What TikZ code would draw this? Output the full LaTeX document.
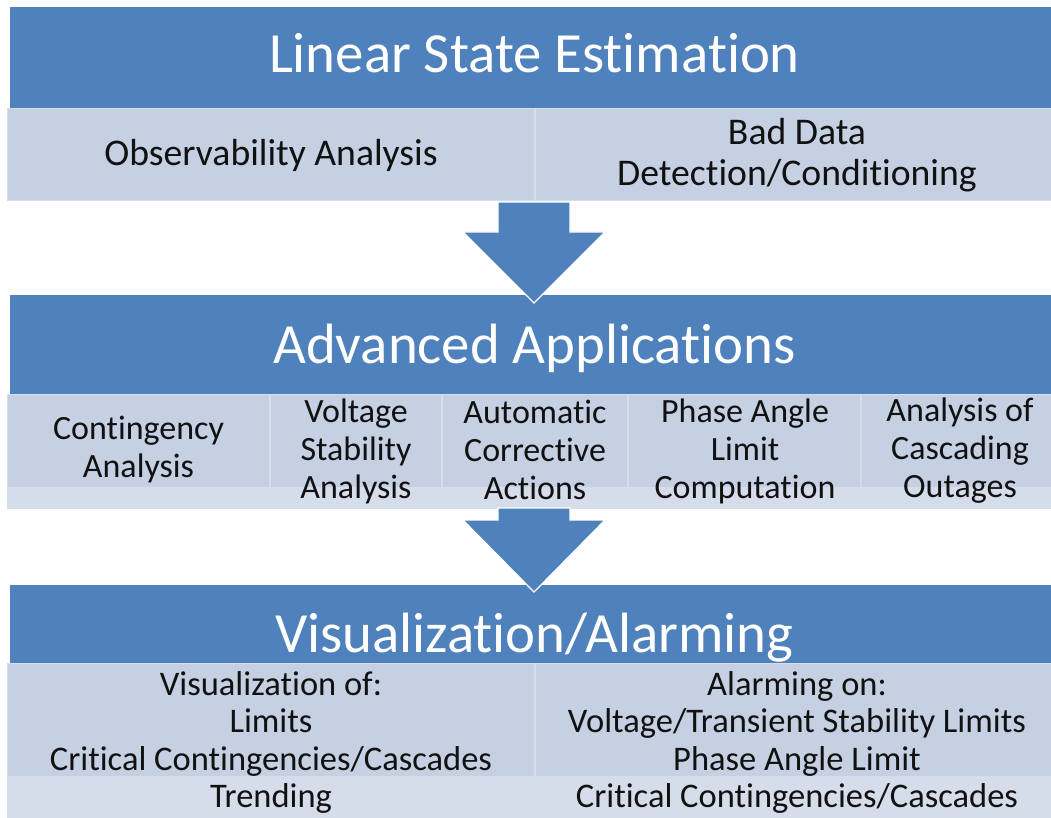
\documentclass[tikz,border=0pt]{standalone}
\usepackage{fontspec}
\setmainfont{Carlito}[Ligatures={NoCommon},Contextuals={NoAlternate}]
\definecolor{hdrblue}{HTML}{4F81BD}
\definecolor{rowblue}{HTML}{C5D0E3}
\definecolor{bandblue}{HTML}{D5DCEA}
\definecolor{divline}{HTML}{D6DEEB}
\definecolor{inktext}{HTML}{111111}
\tikzset{
  hdrfill/.style={fill=hdrblue},
  rowfill/.style={fill=rowblue},
  bandfill/.style={fill=bandblue},
  divider/.style={draw=divline, line width=1.6pt},
  rowedge/.style={draw=divline, line width=1pt},
  blockarrow/.style={fill=hdrblue, draw=white, line width=1.2pt, line join=miter},
  titletext/.style={text=white, font=\fontsize{56.8}{68}\selectfont, anchor=base, inner sep=0pt},
  textA/.style={text=inktext, font=\fontsize{37.7}{41}\selectfont, align=center, inner sep=0pt},
  textB/.style={text=inktext, font=\fontsize{34}{38}\selectfont, align=center, inner sep=0pt},
  textC/.style={text=inktext, font=\fontsize{34.5}{37.5}\selectfont, align=center, inner sep=0pt},
}
\begin{document}
\begin{tikzpicture}[x=1pt,y=-1pt]
\useasboundingbox (0,0) rectangle (1051,818);
\clip (0,0) rectangle (1051,818);
\fill[white] (0,0) rectangle (1051,818);

% ---------- Section 1 ----------
\fill[hdrfill] (10,7) rectangle (1059,109);
\fill[rowfill] (7,109) rectangle (1062,201);
\draw[rowedge] (7,109) rectangle (1062,201);
\draw[divider] (535,109) -- (535,201);
\node[titletext] (t1) at (534.5,73) {Linear State Estimation};
\node[textA] (obs) at (271,155) {Observability Analysis};
\node[textA] (bad) at (797,155) {Bad Data\\Detection/Conditioning};

% ---------- Section 2 ----------
\fill[hdrfill] (10,295) rectangle (1059,394);
\fill[rowfill] (7,394) rectangle (1062,487);
\fill[bandfill] (7,487) rectangle (1062,508);
\draw[rowedge] (7,394) rectangle (1062,508);
\foreach \xd in {270,442,628,861} \draw[divider] (\xd,394) -- (\xd,508);
\node[titletext] (t2) at (534.5,363) {Advanced Applications};
\node[textB] (cont) at (138.5,450) {Contingency\\Analysis};
\node[textB] (volt) at (356,451) {Voltage\\Stability\\Analysis};
\node[textB] (auto) at (535,450) {Automatic\\Corrective\\Actions};
\node[textB] (phase) at (745,451) {Phase Angle\\Limit\\Computation};
\node[textB] (casc) at (960,451) {Analysis of\\Cascading\\Outages};

% ---------- Section 3 ----------
\fill[hdrfill] (10,585) rectangle (1059,663);
\fill[rowfill] (7,663) rectangle (1062,776);
\fill[bandfill] (7,776) rectangle (1062,830);
\draw[rowedge] (7,663) rectangle (1062,830);
\draw[divider] (535,663) -- (535,830);
\node[titletext] (t3) at (534.5,652) {Visualization/Alarming};
\node[textC] (vis) at (271,742.5) {Visualization of:\\Limits\\Critical Contingencies/Cascades\\Trending};
\node[textC] (alarm) at (797,742.5) {Alarming on:\\Voltage/Transient Stability Limits\\Phase Angle Limit\\Critical Contingencies/Cascades};

% ---------- Block arrows ----------
\draw[blockarrow] (498,202) -- (570,202) -- (570,232) -- (605,232) -- (534,303) -- (463,232) -- (498,232) -- cycle;
\draw[blockarrow] (498,508) -- (570,508) -- (570,520) -- (605,520) -- (534,592) -- (463,520) -- (498,520) -- cycle;
\end{tikzpicture}
\end{document}
